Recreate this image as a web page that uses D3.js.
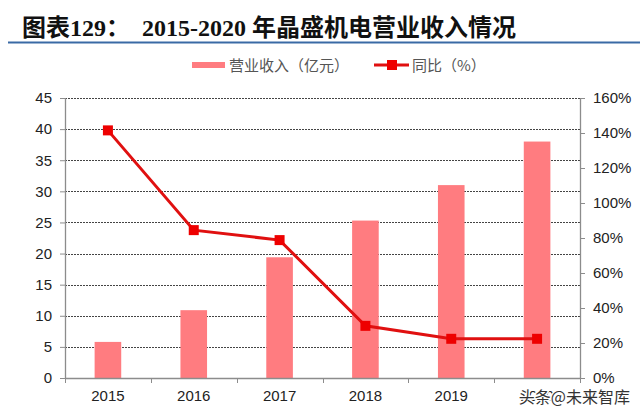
<!DOCTYPE html>
<html>
<head>
<meta charset="utf-8">
<script src="https://cdn.jsdelivr.net/npm/d3@7/dist/d3.min.js"></script>
<style>
  body { margin: 0; background: #fff; }
  svg { display: block; }
</style>
</head>
<body>
<svg id="chart" width="640" height="416"></svg>
<script>
var years = ["2015", "2016", "2017", "2018", "2019", "2020"];
var revenue = [5.8, 10.9, 19.4, 25.3, 31.0, 38.0];
var growth = [141.5, 84.5, 78.8, 29.8, 22.4, 22.4];
var leftTicks = [0, 5, 10, 15, 20, 25, 30, 35, 40, 45];
var rightTicks = [0, 20, 40, 60, 80, 100, 120, 140, 160];

var svg = d3.select("#chart"),
    margin = {top: 98, right: 60, bottom: 38, left: 65},
    width = +svg.attr("width") - margin.left - margin.right,
    height = +svg.attr("height") - margin.top - margin.bottom,
    g = svg.append("g").attr("transform", "translate(" + margin.left + "," + margin.top + ")");

// title
svg.append("text")
    .attr("x", 22)
    .attr("y", 36)
    .attr("font-family", "'Liberation Serif', 'Noto Sans CJK SC', serif")
    .attr("font-weight", "bold")
    .attr("font-size", 24)
    .attr("fill", "#111")
    .text("图表129：\u00a0\u00a02015-2020 年晶盛机电营业收入情况");

svg.append("line")
    .attr("x1", 8).attr("x2", 640)
    .attr("y1", 42.5).attr("y2", 42.5)
    .attr("stroke", "#3a6aa5")
    .attr("stroke-width", 2);

var x = d3.scaleBand()
    .domain(years)
    .range([0, width]);

var y = d3.scaleLinear()
    .domain([0, 45])
    .range([height, 0]);

var y2 = d3.scaleLinear()
    .domain([0, 160])
    .range([height, 0]);

var barW = x.bandwidth() * 0.31;

// grid lines
g.append("g")
  .selectAll("line")
  .data(leftTicks.slice(1))
  .enter().append("line")
    .attr("x1", 0)
    .attr("x2", width)
    .attr("y1", function(d) { return Math.round(y(d)) + 0.5; })
    .attr("y2", function(d) { return Math.round(y(d)) + 0.5; })
    .attr("stroke", "#444")
    .attr("stroke-width", 1)
    .attr("stroke-dasharray", "2,1");

// bars
g.append("g")
  .selectAll("rect")
  .data(revenue)
  .enter().append("rect")
    .attr("x", function(d, i) { return x(years[i]) + x.bandwidth() / 2 - barW / 2; })
    .attr("y", function(d) { return y(d); })
    .attr("width", barW)
    .attr("height", function(d) { return height - y(d); })
    .attr("fill", "#ff7c80");

// axes
var axisColor = "#8c8c8c";

var leftAxis = g.append("g")
    .call(d3.axisLeft(y).tickValues(leftTicks).tickSize(5).tickPadding(8));
var rightAxis = g.append("g")
    .attr("transform", "translate(" + width + ",0)")
    .call(d3.axisRight(y2).tickValues(rightTicks).tickSize(5).tickPadding(8)
      .tickFormat(function(d) { return d + "%"; }));
var bottomAxis = g.append("g")
    .attr("transform", "translate(0," + height + ")")
    .call(d3.axisBottom(x).tickSize(0).tickPadding(12));

// ticks between categories on the bottom axis
bottomAxis.append("g")
  .selectAll("line")
  .data(years.concat(["end"]))
  .enter().append("line")
    .attr("x1", function(d, i) { return Math.round(i * x.step()) + 0.5; })
    .attr("x2", function(d, i) { return Math.round(i * x.step()) + 0.5; })
    .attr("y1", 0)
    .attr("y2", 5)
    .attr("stroke", axisColor);

[leftAxis, rightAxis, bottomAxis].forEach(function(a) {
  a.select(".domain").attr("stroke", axisColor).attr("stroke-width", 1.3);
  a.selectAll(".tick line").attr("stroke", axisColor);
  a.selectAll("text")
    .attr("font-family", "'Liberation Sans', Arial, sans-serif")
    .attr("font-size", 15)
    .attr("fill", "#222");
});
bottomAxis.select(".domain").attr("d", "M0,0.5H" + width);
leftAxis.select(".domain").attr("d", "M0.5,0V" + height);
rightAxis.select(".domain").attr("d", "M0.5,0V" + height);

// growth line
var line = d3.line()
    .x(function(d, i) { return x(years[i]) + x.bandwidth() / 2; })
    .y(function(d) { return y2(d); });

g.append("path")
    .datum(growth)
    .attr("fill", "none")
    .attr("stroke", "#e01010")
    .attr("stroke-width", 3)
    .attr("d", line);

g.append("g")
  .selectAll("rect")
  .data(growth)
  .enter().append("rect")
    .attr("x", function(d, i) { return x(years[i]) + x.bandwidth() / 2 - 5; })
    .attr("y", function(d) { return y2(d) - 5; })
    .attr("width", 10)
    .attr("height", 10)
    .attr("fill", "#ee0000");

// legend
var legend = svg.append("g")
    .attr("font-family", "'Noto Sans CJK SC', sans-serif")
    .attr("font-size", 15)
    .attr("fill", "#555");

legend.append("rect")
    .attr("x", 192).attr("y", 62)
    .attr("width", 33).attr("height", 6)
    .attr("fill", "#ff7c80");
legend.append("text")
    .attr("x", 229).attr("y", 70.5)
    .text("营业收入（亿元）");

legend.append("line")
    .attr("x1", 374).attr("x2", 409)
    .attr("y1", 65).attr("y2", 65)
    .attr("stroke", "#e01010").attr("stroke-width", 3);
legend.append("rect")
    .attr("x", 387).attr("y", 60)
    .attr("width", 10).attr("height", 10)
    .attr("fill", "#ee0000");
legend.append("text")
    .attr("x", 412).attr("y", 70.5)
    .text("同比（%）");

// watermark (sits over the last year label, as in the source image)
svg.append("text")
    .attr("x", 630)
    .attr("y", 403)
    .attr("text-anchor", "end")
    .attr("font-family", "'Noto Sans CJK SC', sans-serif")
    .attr("font-size", 16)
    .attr("fill", "#333")
    .attr("stroke", "#fff")
    .attr("stroke-width", 3)
    .attr("paint-order", "stroke")
    .text("头条@未来智库");
</script>
</body>
</html>
